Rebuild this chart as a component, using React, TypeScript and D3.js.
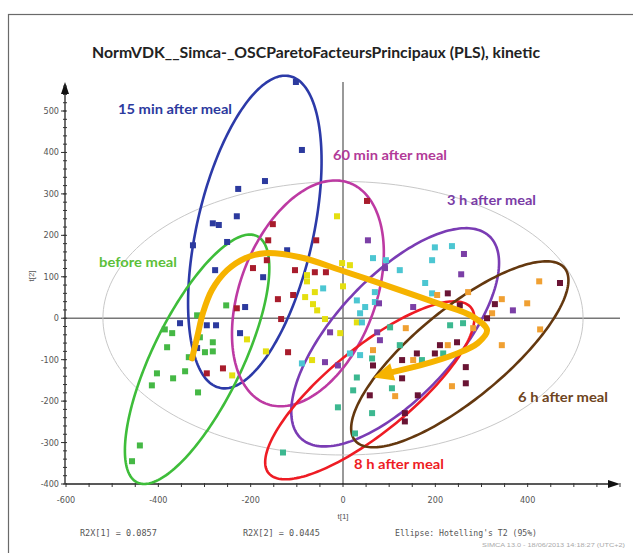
import React from "react";
import * as d3 from "d3";

const TITLE = "NormVDK__Simca-_OSCParetoFacteursPrincipaux (PLS), kinetic";
const X_TICKS = [-600, -400, -200, 0, 200, 400];
const Y_TICKS = [-400, -300, -200, -100, 0, 100, 200, 300, 400, 500];

// scores t[1], t[2] by group
const beforeMeal: [number, number][] = [
  [-253, 31], [-316, 7], [-310, -46], [-299, -82], [-282, -58], [-282, -80], [-334, -94],
  [-386, -27], [-370, -36], [-381, -70], [-403, -133], [-414, -162], [-368, -145],
  [-342, -128], [-314, -179], [-440, -307], [-457, -345],
];
const min15: [number, number][] = [
  [-102, 570], [-89, 406], [-169, 331], [-227, 312], [-230, 246], [-282, 229], [-269, 225],
  [-251, 184], [-325, 176], [-121, 164], [-277, 116], [-173, 99], [-212, 27], [-353, -12],
  [-295, -17], [-275, -17], [-223, -36], [-316, -72],
];
const min60: [number, number][] = [
  [-152, 227], [-162, 188], [-58, 188], [52, 283], [-165, 140], [-195, 121], [-104, 116],
  [-61, 111], [-37, 111], [-141, 46], [-108, 56], [-230, 24], [-134, -2], [-260, -121],
  [-295, -133], [-119, -82],
];
const min30: [number, number][] = [
  [-13, 246], [-78, 104], [-78, 89], [-82, 51], [-61, 63], [-65, 34], [-56, 19], [-2, 133],
  [15, 128], [0, 77], [-208, -51], [-240, -138], [-167, -80], [-6, -36], [-67, -101],
  [-39, -2], [30, -10],
];
const h2: [number, number][] = [
  [-43, 72], [30, 43], [48, 27], [37, 12], [199, 171], [236, 174], [193, 140], [65, 145],
  [93, 140], [123, 116], [69, 63], [178, 85], [69, 39], [193, 60], [-89, -109], [15, -85],
  [37, -89], [41, -10],
];
const h8: [number, number][] = [
  [102, -22], [123, -65], [63, -97], [30, -143], [22, -174], [-11, -215], [26, -278],
  [63, -229], [106, -169], [171, -101], [217, -85], [232, -17], [260, -12], [-130, -324],
];
const h3: [number, number][] = [
  [54, 188], [262, 155], [256, 106], [91, 121], [78, 36], [152, 27], [368, 19], [-28, -34],
  [-39, -106], [-11, -114], [74, -34], [80, -53],
];
const h4: [number, number][] = [
  [425, 89], [399, 36], [344, 46], [323, 12], [271, 63], [204, 56], [427, -27], [344, -65],
  [227, -65], [282, -24], [236, -164], [152, -101], [136, -24], [65, -77], [113, -188],
];
const h6: [number, number][] = [
  [470, 85], [329, 34], [312, 0], [227, 60], [253, 31], [247, -58], [210, -65], [199, -85],
  [160, -85], [128, -101], [128, -145], [266, -118], [266, -157], [65, -114], [58, -186],
  [162, -186], [134, -229], [134, -249],
];

const SERIES = [
  { data: beforeMeal, color: "#45b845" },
  { data: min15, color: "#2c3a9e" },
  { data: min60, color: "#a81c2c" },
  { data: min30, color: "#e4df10" },
  { data: h2, color: "#4cc6d2" },
  { data: h8, color: "#3cb890" },
  { data: h3, color: "#7b3fa6" },
  { data: h4, color: "#f0a032" },
  { data: h6, color: "#6a1434" },
];

// ellipses: center (cx, cy), conjugate semi-axis vectors u, v (data units)
const ELLIPSES = [
  { c: [0, 0], u: [520, 0], v: [0, 330], color: "#c8c8c8", w: 1 },
  { c: [-191, 208], u: [76, 376], v: [123, -31], color: "#2c3aa8", w: 2.6 },
  { c: [-316, -99], u: [130, 297], v: [87, -48], color: "#3ebd3a", w: 2.6 },
  { c: [-76, 60], u: [91, 266], v: [137, -59], color: "#bd3aa3", w: 2.6 },
  { c: [113, -46], u: [204, 244], v: [95, -99], color: "#7a3cb4", w: 2.6 },
  { c: [58, -174], u: [219, 200], v: [58, -78], color: "#ee1c24", w: 2.6 },
  { c: [253, -87], u: [227, 208], v: [62, -84], color: "#64380f", w: 2.6 },
];

const ARROW: [number, number][] = [
  [-327, -97], [-316, -46], [-303, 14], [-284, 68], [-251, 116], [-212, 145], [-169, 157],
  [-93, 147], [0, 114], [123, 68], [210, 34], [279, 5], [312, -29], [292, -60], [243, -87],
  [167, -114], [100, -132],
];
const ARROW_TIP: [number, number] = [66, -143];

const LABELS = [
  { text: "15 min after meal", x: 118, y: 114, w: 114, color: "#2c3a9e" },
  { text: "60 min after meal", x: 333, y: 160, w: 114, color: "#b23a98" },
  { text: "3 h after meal", x: 447, y: 205, w: 89, color: "#7a3ca6" },
  { text: "before meal", x: 99, y: 267, w: 78, color: "#5cbf3a" },
  { text: "6 h after meal", x: 518, y: 402, w: 90, color: "#6e4420" },
  { text: "8 h after meal", x: 354, y: 469, w: 90, color: "#ee1c24" },
];

export default function App() {
  const W = 633, H = 553;
  const x = d3.scaleLinear().domain([-600, 600]).range([66, 620]);
  const y = d3.scaleLinear().domain([-400, 570]).range([484, 82]);

  const ellPath = (e: any) => {
    const pts: [number, number][] = d3.range(0, 201).map((i) => {
      const p = (i / 200) * Math.PI * 2;
      return [
        x(e.c[0] + e.u[0] * Math.cos(p) + e.v[0] * Math.sin(p)),
        y(e.c[1] + e.u[1] * Math.cos(p) + e.v[1] * Math.sin(p)),
      ];
    });
    return d3.line()(pts) + "Z";
  };

  const arrowPts: [number, number][] = ARROW.map((d) => [x(d[0]), y(d[1])]);
  const arrowLine = d3.line().curve(d3.curveCatmullRom.alpha(0.5))(arrowPts);
  const last = arrowPts[arrowPts.length - 1];
  const tip: [number, number] = [x(ARROW_TIP[0]), y(ARROW_TIP[1])];
  const dx = tip[0] - last[0], dy = tip[1] - last[1];
  const len = Math.hypot(dx, dy);
  const ux = dx / len, uy = dy / len;
  const base = [tip[0] - ux * 20, tip[1] - uy * 20];
  const head = [
    tip,
    [base[0] - uy * 9, base[1] + ux * 9],
    [base[0] + uy * 9, base[1] - ux * 9],
  ];

  const yMinor = d3.range(-400, 561, 20);
  const xMinor = d3.range(-600, 601, 50);

  return (
    <svg width={W} height={H} style={{ position: "absolute", left: 0, top: 0 }}>
      <rect x={0} y={0} width={W} height={H} fill="#fff" />
      <rect x={8.5} y={14.5} width={700} height={600} fill="none" stroke="#6a6a6a" strokeWidth={1.2} />
      <text x={316} y={58} textAnchor="middle" fontFamily="Lato, 'Open Sans', sans-serif" fontWeight={700} fontSize={16} fill="#222" textLength={448} lengthAdjust="spacingAndGlyphs">
        {TITLE}
      </text>

      {/* zero lines */}
      <line x1={x(-600)} x2={x(600)} y1={y(0)} y2={y(0)} stroke="#777" strokeWidth={1.5} />
      <line x1={x(0)} x2={x(0)} y1={y(570)} y2={y(-400)} stroke="#777" strokeWidth={1.5} />

      {/* axes */}
      <line x1={x(-600)} x2={x(600) - 6} y1={y(-400)} y2={y(-400)} stroke="#222" strokeWidth={1.3} />
      <path d={`M${x(600)},${y(-400)} l-12,-4 l0,8 Z`} fill="#111" />
      <line x1={x(-600) - 1} x2={x(-600) - 1} y1={y(-400)} y2={y(570) + 6} stroke="#222" strokeWidth={1.3} />
      <path d={`M${x(-600) - 1},${y(570)} l-4,12 l8,0 Z`} fill="#111" />
      {yMinor.map((v) => (
        <line key={"ym" + v} x1={x(-600) - 3} x2={x(-600) + 1} y1={y(v)} y2={y(v)} stroke="#333" strokeWidth={1} />
      ))}
      {Y_TICKS.map((v) => (
        <g key={"yt" + v}>
          <line x1={x(-600) - 5} x2={x(-600)} y1={y(v)} y2={y(v)} stroke="#333" />
          <text x={x(-600) - 7} y={y(v) + 3} textAnchor="end" fontSize={9} fontFamily="'Liberation Sans Narrow', 'DejaVu Sans Condensed', sans-serif" fill="#555">
            {v}
          </text>
        </g>
      ))}
      {xMinor.map((v) => (
        <line key={"xm" + v} x1={x(v)} x2={x(v)} y1={y(-400) - 1} y2={y(-400) + 3} stroke="#333" strokeWidth={1} />
      ))}
      {X_TICKS.map((v) => (
        <text key={"xt" + v} x={x(v)} y={503} textAnchor="middle" fontSize={9} fontFamily="'Liberation Sans Narrow', 'DejaVu Sans Condensed', sans-serif" fill="#555">
          {v}
        </text>
      ))}
      <text x={x(0)} y={519} textAnchor="middle" fontSize={8} fontFamily="'Liberation Sans Narrow', sans-serif" fill="#555">t[1]</text>
      <text transform={`translate(34,276) rotate(-90)`} textAnchor="middle" fontSize={8} fontFamily="'Liberation Sans Narrow', sans-serif" fill="#555">t[2]</text>

      {/* ellipses */}
      {ELLIPSES.map((e, i) => (
        <path key={"e" + i} d={ellPath(e)} fill="none" stroke={e.color} strokeWidth={e.w} />
      ))}

      {/* points */}
      {SERIES.map((s, si) =>
        s.data.map((d, i) => (
          <rect key={si + "-" + i} x={x(d[0]) - 3} y={y(d[1]) - 3} width={6} height={6} fill={s.color} />
        ))
      )}

      {/* arrow */}
      <path d={arrowLine || ""} fill="none" stroke="#f6b300" strokeWidth={6} strokeLinecap="round" strokeLinejoin="round" />
      <path d={d3.line()(head as any) + "Z"} fill="#f6b300" />

      {/* labels */}
      {LABELS.map((l) => (
        <text key={l.text} x={l.x} y={l.y} fontFamily="Lato, 'Open Sans', sans-serif" fontWeight={700} fontSize={14} fill={l.color} textLength={l.w} lengthAdjust="spacingAndGlyphs">
          {l.text}
        </text>
      ))}

      {/* footer */}
      <text x={80} y={536} fontSize={8.5} fontFamily="'DejaVu Sans Mono', monospace" fill="#555">R2X[1] = 0.0857</text>
      <text x={243} y={536} fontSize={8.5} fontFamily="'DejaVu Sans Mono', monospace" fill="#555">R2X[2] = 0.0445</text>
      <text x={395} y={536} fontSize={8.5} fontFamily="'DejaVu Sans Mono', monospace" fill="#555" textLength={142} lengthAdjust="spacingAndGlyphs">Ellipse: Hotelling's T2 (95%)</text>
      <text x={482} y={547} fontSize={5} fontFamily="'Liberation Sans', sans-serif" fill="#aaa" textLength={143} lengthAdjust="spacingAndGlyphs">SIMCA 13.0 - 18/06/2013 14:18:27 (UTC+2)</text>
    </svg>
  );
}
